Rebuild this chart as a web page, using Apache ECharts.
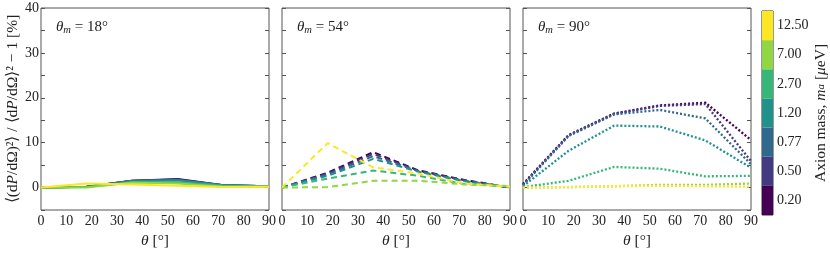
<!DOCTYPE html>
<html><head><meta charset="utf-8">
<script src="https://cdn.jsdelivr.net/npm/echarts@6/dist/echarts.min.js"></script>
<style>html,body{margin:0;padding:0;background:#fff}#c{width:830px;height:254px}</style>
</head><body><div id="c"></div>
<script>
const theta = [0, 18, 36, 54, 72, 90];
const masses = ['0.20', '0.50', '0.77', '1.20', '2.70', '7.00', '12.50'];
const colors = ['#440154', '#443983', '#31688e', '#21918c', '#35b779', '#90d743', '#fde725'];
const panelTitles = ['18', '54', '90'];
const xTicks = [0, 10, 20, 30, 40, 50, 60, 70, 80, 90];
const yTicks = [-5, 0, 10, 20, 30, 40];

// theta_m = 18 deg (solid)
const p18 = [
  [0, 0.2, 1.5, 1.9, 0.5, 0.3],
  [0, 0.2, 1.5, 1.8, 0.5, 0.3],
  [0, 0.2, 1.5, 1.7, 0.5, 0.3],
  [0, 0.2, 1.4, 1.6, 0.5, 0.3],
  [0, 0.1, 1.2, 1.2, 0.4, 0.3],
  [0, 0.0, 1.1, 0.9, 0.2, 0.2],
  [0, 0.9, 0.7, 0.4, 0.1, 0.2]
];
// theta_m = 54 deg (dashed)
const p54 = [
  [0, 3.3, 7.9, 3.8, 1.7, 0.0],
  [0, 3.1, 7.5, 3.7, 1.6, 0.0],
  [0, 2.9, 7.0, 3.6, 1.5, 0.0],
  [0, 2.6, 6.4, 3.5, 1.4, 0.1],
  [0, 2.0, 3.8, 2.6, 0.8, 0.2],
  [0, 0.1, 1.5, 1.5, 0.7, 0.3],
  [0, 9.9, 4.5, 3.1, 0.9, 0.2]
];
// theta_m = 90 deg (dotted)
const p90 = [
  [0.8, 11.7, 16.5, 18.3, 18.9, 10.6],
  [0.6, 11.6, 16.4, 18.2, 18.6, 5.9],
  [0.5, 11.5, 16.3, 17.3, 15.4, 5.2],
  [0.3, 8.2, 13.8, 13.6, 10.5, 4.4],
  [0.1, 1.5, 4.6, 4.2, 2.5, 2.6],
  [0.0, 0.1, 0.3, 0.6, 0.6, 0.9],
  [0.0, 0.1, 0.3, 0.4, 0.3, 0.2]
];

const panels = [p18, p54, p90];
const lineTypes = ['solid', [6, 4], [2, 2]];
const FONT = 'Liberation Serif';
const gridLefts = [41, 282, 523];
const GW = 228, GT = 8, GH = 207;

const grids = [], xAxes = [], yAxes = [], series = [], titles = [];
gridLefts.forEach((l, i) => {
  grids.push({left: l, top: GT, width: GW, height: GH, show: true, borderColor: '#555', borderWidth: 1, containLabel: false});
  xAxes.push({
    gridIndex: i, type: 'value', min: 0, max: 90, interval: 10,
    axisLine: {show: false}, axisTick: {show: false}, splitLine: {show: false},
    axisLabel: {color: '#222', fontFamily: FONT, fontSize: 14, margin: 4,
      formatter: v => xTicks.includes(v) ? String(v) : ''},
    name: '{i|θ} [°]', nameLocation: 'middle', nameGap: 23,
    nameTextStyle: {color: '#222', fontFamily: FONT, fontSize: 15.5, rich: {i: {fontStyle: 'italic', fontFamily: FONT, fontSize: 15.5}}}
  });
  const yBase = {
    gridIndex: i, type: 'value', min: -5, max: 40, interval: 5,
    axisLine: {show: false}, splitLine: {show: false},
    axisTick: {show: true, inside: true, length: 4, lineStyle: {color: '#555'}}
  };
  yAxes.push(Object.assign({}, yBase, {
    position: 'left',
    axisLabel: {show: i === 0, color: '#222', fontFamily: FONT, fontSize: 14, margin: 2,
      formatter: v => (yTicks.includes(v) && v !== -5) ? String(v) : ''},
    name: i === 0 ? '⟨(d{i|P}/dΩ)²⟩ / ⟨d{i|P}/dΩ⟩² − 1 [%]' : '',
    nameLocation: 'middle', nameGap: 20, nameRotate: 90,
    nameTextStyle: {color: '#222', fontFamily: FONT, fontSize: 15.5, rich: {i: {fontStyle: 'italic', fontFamily: FONT, fontSize: 15.5}}}
  }));
  yAxes.push(Object.assign({}, yBase, {position: 'right', axisLabel: {show: false}}));
  panels[i].forEach((vals, k) => {
    series.push({
      type: 'line', xAxisIndex: i, yAxisIndex: 2 * i,
      data: theta.map((t, j) => [t, vals[j]]),
      showSymbol: false, symbol: 'none', animation: false,
      lineStyle: {color: colors[k], width: i === 2 ? 2.3 : 2, type: lineTypes[i]},
      z: 2 + k
    });
  });
  titles.push({
    text: '{i|θ}{s|m} = ' + panelTitles[i] + '°', left: l + 10, top: 13,
    textStyle: {color: '#222', fontFamily: FONT, fontSize: 15, fontWeight: 'normal',
      rich: {i: {fontStyle: 'italic', fontFamily: FONT, fontSize: 15, lineHeight: 18},
             s: {fontStyle: 'italic', fontFamily: FONT, fontSize: 10.5, verticalAlign: 'bottom', lineHeight: 10, padding: [7, 0, 0, 0]}}}
  });
});

// colorbar
grids.push({left: 762, top: 11, width: 12, height: 204, show: true, borderColor: '#333', borderWidth: 1});
xAxes.push({gridIndex: 3, type: 'value', min: 0, max: 1, show: false});
yAxes.push({
  gridIndex: 3, type: 'category', data: masses, position: 'right',
  axisLine: {show: false}, axisTick: {show: false}, splitLine: {show: false},
  axisLabel: {color: '#222', fontFamily: FONT, fontSize: 14, margin: 4},
  name: 'Axion mass, {i|m}{s|a} [{i|μ}eV]', nameLocation: 'middle', nameGap: 40, nameRotate: 90,
  nameTextStyle: {color: '#222', fontFamily: FONT, fontSize: 15.5,
    rich: {i: {fontStyle: 'italic', fontFamily: FONT, fontSize: 15.5}, s: {fontStyle: 'italic', fontFamily: FONT, fontSize: 11}}}
});
series.push({
  type: 'bar', xAxisIndex: 3, yAxisIndex: 6, barWidth: '100%', barCategoryGap: 0, animation: false,
  data: masses.map((m, k) => ({value: 1, itemStyle: {color: colors[k]}}))
});

const chart = echarts.init(document.getElementById('c'), null, {renderer: 'canvas'});
chart.setOption({animation: false, backgroundColor: '#fff', title: titles, grid: grids, xAxis: xAxes, yAxis: yAxes, series: series});
</script></body></html>
